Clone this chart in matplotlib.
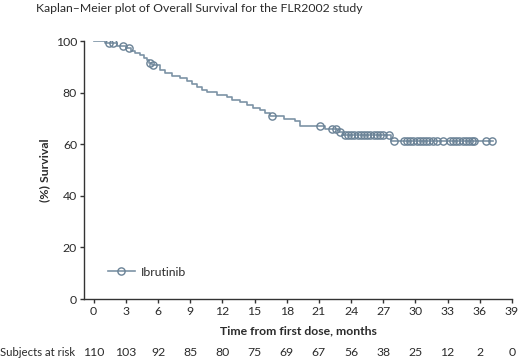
import numpy as np
import matplotlib
matplotlib.use("Agg")
import matplotlib.pyplot as plt

# ---- data ----
step_times = [0, 1.1, 2.2, 3.0, 3.5, 3.9, 4.3, 4.7, 5.0, 5.2, 5.4, 6.2, 6.65, 7.28, 8.05, 8.68,
              9.14, 9.6, 10.07, 10.54, 11.47, 12.4, 12.87, 13.6, 14.3, 14.9, 15.5, 16.0, 16.4,
              17.7, 18.8, 19.2, 21.6, 22.9, 23.2, 27.7]
step_surv = [100, 99.1, 98.2, 97.2, 96.2, 95.3, 94.4, 93.4, 92.5, 91.5, 90.6, 88.7, 87.7, 86.6, 85.5, 84.5,
             83.4, 82.3, 81.2, 80.2, 79.2, 78.3, 77.2, 76.2, 75.2, 74.2, 73.2, 72.1, 71.0,
             69.9, 68.8, 67.0, 65.9, 64.9, 63.6, 61.3]
end_time = 37.25
censor_times = [1.45, 1.8, 2.7, 3.25, 5.25, 5.55, 16.6, 21.1, 22.2, 22.6, 23.0,
                23.4, 23.7, 24.0, 24.3, 24.6, 24.9, 25.2, 25.5, 25.8, 26.1, 26.4, 26.7, 27.0, 27.5,
                28.0, 28.9, 29.2, 29.5, 29.8, 30.1, 30.4, 30.7, 31.0, 31.3, 31.6, 32.0, 32.6,
                33.2, 33.5, 33.8, 34.1, 34.4, 34.7, 35.0, 35.3, 35.5, 36.6, 37.1]
xticks = list(range(0, 40, 3))
yticks = [0, 20, 40, 60, 80, 100]
at_risk = [110, 103, 92, 85, 80, 75, 69, 67, 56, 38, 25, 12, 2, 0]
series_name = "Ibrutinib"
title = "Kaplan\u2013Meier plot of Overall Survival for the FLR2002 study"

plt.rcParams['font.family'] = ['Lato', 'DejaVu Sans']
color = '#7d93a6'
edge = '#6a8296'
txt = '#2b2b2b'
fs = 8.8

fig = plt.figure(figsize=(5.2, 3.59), dpi=100)
ax = fig.add_axes([84/520, 1-299/359, (512-84)/520, (299-41)/359])

t = np.array(step_times + [end_time])
s = np.array(step_surv + [step_surv[-1]])
ax.step(t, s, where='post', color=color, lw=1.2, zorder=2)

st = np.array(step_times); ss = np.array(step_surv)
ct = np.array(censor_times)
idx = np.searchsorted(st, ct, side='right') - 1
cs = ss[idx]
ax.plot(ct, cs, ls='none', marker='o', ms=5.2, mfc='none', mec=edge, mew=1.0, zorder=3)

ax.set_xlim(-0.9, 39)
ax.set_ylim(0, 100)
ax.set_xticks(xticks)
ax.set_yticks(yticks)
for sp in ['top', 'right']:
    ax.spines[sp].set_visible(False)
for sp in ['left', 'bottom']:
    ax.spines[sp].set_color('#333333')
    ax.spines[sp].set_linewidth(1.0)
ax.tick_params(axis='both', length=3, width=1, color='#333333', labelsize=fs, labelcolor=txt)
ax.tick_params(axis='x', pad=2)
ax.tick_params(axis='y', pad=2)

ax.set_xlabel("Time from first dose, months", fontsize=fs, fontweight='bold', color=txt, labelpad=6)
ax.set_ylabel("(%) Survival", fontsize=fs, fontweight='bold', color=txt, labelpad=4)

ax.plot([], [], color=color, lw=1.2, marker='o', ms=5.2, mfc='none', mec=edge, label=series_name)
leg = ax.legend(loc='lower left', bbox_to_anchor=(0.03, 0.04), frameon=False, fontsize=fs,
                handlelength=2.2, handletextpad=0.5)
for tx in leg.get_texts():
    tx.set_color(txt)

fig.text(36/520, 1-8/359, title, fontsize=fs, color=txt, va='center', ha='left')

# subjects at risk row
fig.text(0/520, 1-352/359, "Subjects at risk", fontsize=8.2, color=txt, va='center', ha='left')
for xv, n in zip(xticks, at_risk):
    ax.annotate(str(n), xy=(xv, 0), xycoords=('data', 'axes fraction'),
                xytext=(0, -(352-299)), textcoords='offset pixels',
                ha='center', va='center', fontsize=fs, color=txt)

fig.savefig("out.png", dpi=100)
